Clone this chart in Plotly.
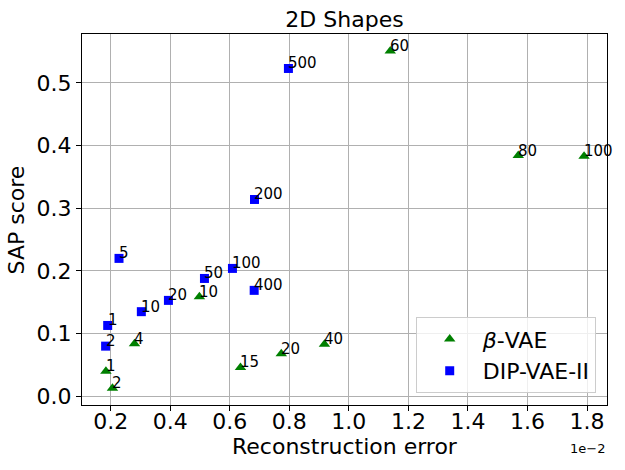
import plotly.graph_objects as go

# x values are in units of 1e-2 (matplotlib offset text "1e-2")
beta_x = [0.184, 0.206, 0.280, 0.498, 0.636, 0.773, 0.918, 1.139, 1.569, 1.790]
beta_y = [0.040, 0.013, 0.084, 0.159, 0.046, 0.068, 0.083, 0.551, 0.384, 0.383]
beta_labels = ["1", "2", "4", "10", "15", "20", "40", "60", "80", "100"]

dip_x = [0.190, 0.183, 0.228, 0.303, 0.394, 0.515, 0.609, 0.683, 0.682, 0.797]
dip_y = [0.113, 0.080, 0.220, 0.135, 0.153, 0.188, 0.204, 0.314, 0.169, 0.523]
dip_labels = ["1", "2", "5", "10", "20", "50", "100", "200", "400", "500"]

x_ticks = [0.2, 0.4, 0.6, 0.8, 1.0, 1.2, 1.4, 1.6, 1.8]
y_ticks = [0.0, 0.1, 0.2, 0.3, 0.4, 0.5]

font = "DejaVu Sans"

fig = go.Figure()
fig.add_trace(go.Scatter(
    x=beta_x, y=beta_y, mode="markers", name="<i>β</i>-VAE",
    marker=dict(symbol="triangle-up", size=10, color="#008000"),
))
fig.add_trace(go.Scatter(
    x=dip_x, y=dip_y, mode="markers", name="DIP-VAE-II",
    marker=dict(symbol="square", size=9, color="#0000ff"),
))

# point labels, like ax.annotate(label, (x, y))
for xs, ys, labels in [(beta_x, beta_y, beta_labels), (dip_x, dip_y, dip_labels)]:
    for x, y, t in zip(xs, ys, labels):
        fig.add_annotation(
            x=x, y=y, text=t, showarrow=False, xanchor="left", yanchor="bottom",
            font=dict(family=font, size=15, color="black"), xshift=-2, yshift=-6,
        )

# offset text and axis titles placed like matplotlib's
fig.add_annotation(
    text="1e\u22122", xref="paper", yref="paper", x=1.0, y=-0.118,
    xanchor="right", yanchor="middle", showarrow=False,
    font=dict(family=font, size=13, color="black"),
)
fig.add_annotation(
    text="Reconstruction error", xref="paper", yref="paper", x=0.5, y=-0.112,
    xanchor="center", yanchor="middle", showarrow=False,
    font=dict(family=font, size=22, color="black"),
)
fig.add_annotation(
    text="SAP score", xref="paper", yref="paper", x=-0.124, y=0.5,
    xanchor="center", yanchor="middle", showarrow=False, textangle=-90,
    font=dict(family=font, size=22, color="black"),
)

axis_common = dict(
    showgrid=True, gridcolor="#b0b0b0", gridwidth=1,
    showline=True, linecolor="black", linewidth=1, mirror=True,
    ticks="outside", ticklen=5, tickcolor="black",
    tickfont=dict(family=font, size=22, color="black"),
    zeroline=False, automargin=False,
)

fig.update_layout(
    width=625, height=470,
    margin=dict(l=82, r=18, t=34, b=65),
    plot_bgcolor="white", paper_bgcolor="white",
    font=dict(family=font, color="black"),
    title=dict(text="2D Shapes", x=0.5, xref="paper", y=1 - 19 / 470,
               yanchor="middle", automargin=False, font=dict(family=font, size=22)),
    xaxis=dict(range=[0.1037, 1.867], tickvals=x_ticks,
               ticktext=[f"{v:.1f}" for v in x_ticks],
               ticklabelstandoff=-8, **axis_common),
    yaxis=dict(range=[-0.0139, 0.578], tickvals=y_ticks,
               ticktext=[f"{v:.1f}" for v in y_ticks],
               **axis_common),
    legend=dict(
        x=0.9785, y=0.0316, xanchor="right", yanchor="bottom",
        bgcolor="rgba(255,255,255,0.8)", bordercolor="#cccccc", borderwidth=1,
        font=dict(family=font, size=22), itemwidth=56,
    ),
)

fig.write_html("out.html", config={"displayModeBar": False},
               post_script="document.body.style.margin='0';")
